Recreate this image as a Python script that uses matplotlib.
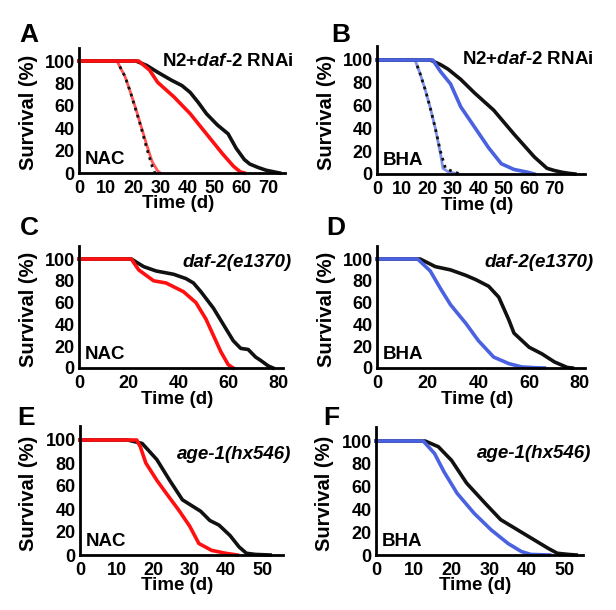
import matplotlib
matplotlib.use("Agg")
import matplotlib.pyplot as plt

plt.rcParams["font.family"] = ["Liberation Sans", "DejaVu Sans"]
plt.rcParams["font.weight"] = "bold"
plt.rcParams["axes.labelweight"] = "bold"
plt.rcParams["mathtext.fontset"] = "custom"
plt.rcParams["mathtext.it"] = "Liberation Sans:italic:bold"
plt.rcParams["mathtext.rm"] = "Liberation Sans:bold"

RED, BLUE, BLACK = "#ff1010", "#4a62e0", "#111111"

# survival curves: time (d), survival (%)
A_ctrl_t = [0, 21, 25, 29, 34, 38, 41, 44, 47, 51, 55, 58, 61, 63, 66, 69, 72, 74]
A_ctrl_s = [100, 100, 96, 90, 83, 78, 72, 63, 53, 43, 35, 22, 12, 8, 5, 2.5, 1, 0]
A_drug_t = [0, 22, 26, 29, 35, 41, 46, 50, 53, 57, 59.5, 61]
A_drug_s = [100, 100, 92, 81, 68, 53, 38, 26, 17, 6, 1, 0]
A_n2_t = [0, 14, 17, 19, 21, 23, 25, 27, 28]
A_n2_s = [100, 100, 86, 72, 56, 40, 22, 6, 0]
A_n2drug_t = [0, 14, 17, 19, 21, 23, 25, 27, 29, 30]
A_n2drug_s = [100, 100, 86, 72, 57, 41, 25, 10, 2, 0]

B_ctrl_t = [0, 21, 25, 28, 33, 38.5, 46, 54, 62, 67, 70, 73, 76, 78]
B_ctrl_s = [100, 100, 96, 92, 83, 71, 56, 35, 15, 5, 3, 1.5, 0.5, 0]
B_drug_t = [0, 22, 25, 29, 33, 38.5, 44, 49, 54, 59.5, 62]
B_drug_s = [100, 100, 90, 79, 59, 41, 23, 9, 4, 1.5, 0]
B_n2_t = [0, 15, 17, 19, 21, 23, 25, 27, 30, 33]
B_n2_s = [100, 100, 88, 74, 58, 40, 20, 5, 2, 0]
B_n2drug_t = [0, 15, 17, 19, 21, 23, 25, 26, 28, 32]
B_n2drug_s = [100, 100, 88, 74, 58, 40, 18, 5, 2, 0]

C_ctrl_t = [0, 21, 26, 31, 38, 43, 46, 49, 54, 58, 62, 65, 68, 71, 73, 76, 78]
C_ctrl_s = [100, 100, 93, 89, 86, 82, 78, 70, 55, 40, 25, 18, 17, 10, 7, 2, 0]
C_drug_t = [0, 21, 24, 27, 30, 35, 42, 47, 51, 54, 57, 60, 62]
C_drug_s = [100, 100, 90, 85, 80, 78, 70, 60, 45, 30, 15, 3, 0]

D_ctrl_t = [0, 17, 23, 29, 35, 39, 44, 48, 52, 54, 60, 65, 70, 75, 77]
D_ctrl_s = [100, 100, 93, 90, 85, 81, 75, 65, 44, 32, 19, 13, 5.5, 0.5, 0]
D_drug_t = [0, 16, 21, 25, 29, 35, 40, 46, 52, 57, 62, 66]
D_drug_s = [100, 100, 89, 73, 58, 41, 25, 10, 4, 1, 0.3, 0]

E_ctrl_t = [0, 13, 17, 21, 24.5, 28, 33, 35.5, 38, 41, 43.5, 45.5, 48, 52]
E_ctrl_s = [100, 100, 97, 83, 65, 48, 38, 30, 26, 17, 7, 1.5, 0.5, 0]
E_drug_t = [0, 15.5, 16.5, 18, 21, 23.5, 27, 30, 32.5, 36, 40, 43]
E_drug_s = [100, 100, 94, 80, 65, 54, 39, 25, 10, 4, 1.4, 0]

F_ctrl_t = [0, 13, 16.5, 20, 24, 29, 33, 37.5, 42, 45.5, 48, 51, 53]
F_ctrl_s = [100, 100, 95, 83, 63, 45, 31, 22, 13, 6, 1.5, 0.5, 0]
F_drug_t = [0, 12.5, 15.5, 18, 21.5, 26, 30.5, 35, 38.5, 41, 46]
F_drug_s = [100, 100, 89, 73, 54, 36.5, 22, 10, 3, 0.5, 0]

Y_TICKS = [0, 20, 40, 60, 80, 100]
W, H = 616, 610


def make_axes(fig, x0, x_end, y0, y100, xmax, ymax=112):
    # pixel placement: x0 = data 0, x_end = right end, y0/y100 = 0 % and 100 %
    top = y0 - (y0 - y100) * ymax / 100
    w, h = x_end - x0, y0 - top
    ax = fig.add_axes([x0 / W, 1 - y0 / H, w / W, h / H])
    ax.set_xlim(0, xmax)
    ax.set_ylim(0, ymax)
    ax.spines[["top", "right"]].set_visible(False)
    ax.spines[["left", "bottom"]].set_linewidth(2.0)
    ax.tick_params(length=0, labelsize=13)
    ax.tick_params(axis="x", pad=5)
    ax.tick_params(axis="y", pad=3)
    ax.set_yticks(Y_TICKS)
    ax.set_ylabel("Survival (%)", fontsize=14.5, va="center")
    ax.yaxis.set_label_coords(-51 / w, 0.48)
    ax.set_xlabel("Time (d)", fontsize=13.5, va="center")
    ax.xaxis.set_label_coords(0.48, -31 / h)
    return ax


def panel(ax, title, drug, title_y, curves, xticks):
    for t, s, c, ls in curves:
        if ls == "-":
            ax.plot(t, s, color=c, lw=2.6, clip_on=False)
        elif c == BLACK:
            ax.plot(t, s, color=c, lw=2.0, ls=":", clip_on=False)
        else:
            # drug-treated N2: thin coloured line under the dotted control
            ax.plot(t, s, color=c, lw=2.0, alpha=0.7, clip_on=False)
    ax.set_xticks(xticks)
    ax.text(1.04, title_y, title, transform=ax.get_yaxis_transform(),
            ha="right", va="center", fontsize=13.5)
    ax.text(0.03, 0.04, drug, transform=ax.transAxes, ha="left",
            va="bottom", fontsize=13.5)


def letter(fig, x, y, s):
    fig.text(x / W, 1 - y / H, s, ha="left", va="baseline", fontsize=19)


fig = plt.figure(figsize=(W / 100, H / 100), dpi=100)

rnai = r"N2+$\mathit{daf}$-$\mathit{2}$ RNAi"
x70 = [0, 10, 20, 30, 40, 50, 60, 70]
x80 = [0, 20, 40, 60, 80]
x50 = [0, 10, 20, 30, 40, 50]

ax = make_axes(fig, 79, 285, 173, 61, 76)
panel(ax, rnai, "NAC", 100, [
    (A_n2drug_t, A_n2drug_s, RED, ":"), (A_n2_t, A_n2_s, BLACK, ":"),
    (A_ctrl_t, A_ctrl_s, BLACK, "-"), (A_drug_t, A_drug_s, RED, "-")], x70)

ax = make_axes(fig, 377, 585, 174, 60, 82)
panel(ax, rnai, "BHA", 100, [
    (B_n2drug_t, B_n2drug_s, BLUE, ":"), (B_n2_t, B_n2_s, BLACK, ":"),
    (B_ctrl_t, B_ctrl_s, BLACK, "-"), (B_drug_t, B_drug_s, BLUE, "-")], x70)

ax = make_axes(fig, 79, 283, 368, 259, 82)
panel(ax, "daf-2(e1370)", "NAC", 97, [
    (C_ctrl_t, C_ctrl_s, BLACK, "-"), (C_drug_t, C_drug_s, RED, "-")], x80)
ax.texts[0].set_style("italic")

ax = make_axes(fig, 377, 585, 368, 259, 82)
panel(ax, "daf-2(e1370)", "BHA", 97, [
    (D_ctrl_t, D_ctrl_s, BLACK, "-"), (D_drug_t, D_drug_s, BLUE, "-")], x80)
ax.texts[0].set_style("italic")

ax = make_axes(fig, 80, 283, 555, 440, 55.5)
panel(ax, "age-1(hx546)", "NAC", 87, [
    (E_ctrl_t, E_ctrl_s, BLACK, "-"), (E_drug_t, E_drug_s, RED, "-")], x50)
ax.texts[0].set_style("italic")

ax = make_axes(fig, 376, 583, 555, 441, 54.8)
panel(ax, "age-1(hx546)", "BHA", 89, [
    (F_ctrl_t, F_ctrl_s, BLACK, "-"), (F_drug_t, F_drug_s, BLUE, "-")], x50)
ax.texts[0].set_style("italic")

letter(fig, 19, 42, "A")
letter(fig, 331, 42, "B")
letter(fig, 20, 235, "C")
letter(fig, 326, 235, "D")
letter(fig, 17, 425, "E")
letter(fig, 323, 425, "F")

fig.savefig("out.png", dpi=100)
